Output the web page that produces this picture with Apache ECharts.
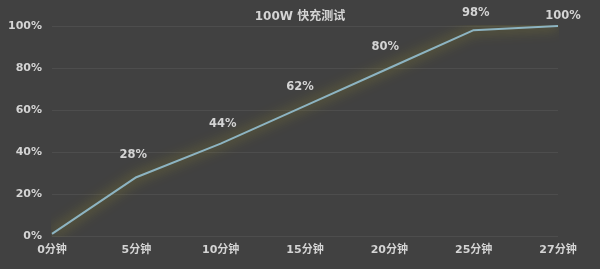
<!DOCTYPE html>
<html><head><meta charset="utf-8">
<script src="https://cdn.jsdelivr.net/npm/echarts@6/dist/echarts.min.js"></script>
<style>html,body{margin:0;padding:0;background:#414141;}#c{width:600px;height:269px;}</style>
</head><body><div id="c"></div>
<script>
const titleText = '100W 快充测试';
const categories = ['0分钟','5分钟','10分钟','15分钟','20分钟','25分钟','27分钟'];
const values = [1, 28, 44, 62, 80, 98, 100];
const valueLabels = ['', '28%', '44%', '62%', '80%', '98%', '100%'];
const yTicks = [0, 20, 40, 60, 80, 100];

const labelOffsets = [[0,0],[-3,-10],[2,-7],[-5,-7],[-4,-9],[2,-5],[5,2]];
const font = '"DejaVu Sans", "Noto Sans CJK SC", sans-serif';
const chart = echarts.init(document.getElementById('c'));
chart.setOption({
  backgroundColor: '#414141',
  animation: false,
  title: {text: titleText, left: 'center', top: 6, textStyle: {color: '#d4d4d4', fontSize: 12, fontWeight: 'bold', fontFamily: font}},
  grid: {left: 52, right: 42, top: 26, bottom: 33},
  xAxis: {type: 'category', data: categories, boundaryGap: false,
    axisLine: {show: false}, axisTick: {show: false},
    axisLabel: {color: '#d4d4d4', fontSize: 11, fontWeight: 'bold', fontFamily: font, margin: 9},
    splitLine: {show: false}},
  yAxis: {type: 'value', min: yTicks[0], max: yTicks[yTicks.length-1], interval: 20,
    axisLine: {show: false}, axisTick: {show: false},
    axisLabel: {color: '#d4d4d4', fontSize: 11, fontWeight: 'bold', fontFamily: font, margin: 10, formatter: '{value}%'},
    splitLine: {lineStyle: {color: '#4d4d4d', width: 1}}},
  series: [{
    type: 'line', symbol: 'circle', symbolSize: 1, showSymbol: true,
    itemStyle: {color: 'rgba(0,0,0,0)', borderWidth: 0},
    data: values.map((v, i) => ({value: v, label: {show: valueLabels[i] !== '', formatter: valueLabels[i], offset: labelOffsets[i]}})),
    lineStyle: {color: '#8db4c2', width: 2, shadowColor: 'rgba(185,175,40,0.95)', shadowBlur: 13},
    label: {show: true, position: 'top', color: '#d4d4d4', fontSize: 11.5, fontWeight: 'bold', fontFamily: font, distance: 6}
  }]
});
</script></body></html>
